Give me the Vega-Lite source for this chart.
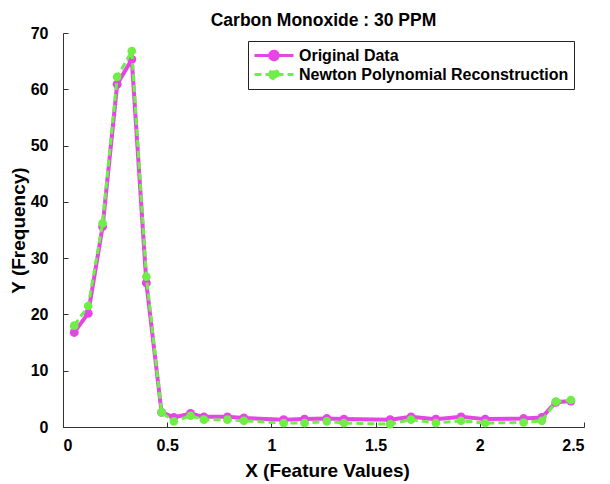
{
  "$schema": "https://vega.github.io/schema/vega-lite/v6.json",
  "autosize": "none",
  "width": 521,
  "height": 394,
  "padding": {"left": 63, "top": 33, "right": 26, "bottom": 57},
  "background": "white",
  "title": {
    "text": "Carbon Monoxide : 30 PPM",
    "font": "Liberation Sans",
    "fontSize": 17.5,
    "fontWeight": "bold",
    "color": "black",
    "anchor": "middle",
    "frame": "group",
    "offset": 8,
    "dy": 12
  },
  "config": {
    "view": {"stroke": null},
    "axis": {
      "grid": false,
      "domainColor": "#333333",
      "tickColor": "#333333",
      "domainWidth": 1,
      "tickWidth": 1,
      "tickSize": -5,
      "labelFont": "Liberation Sans",
      "labelFontWeight": "bold",
      "labelFontSize": 16,
      "labelColor": "black",
      "titleFont": "Liberation Sans",
      "titleFontWeight": "bold",
      "titleFontSize": 19,
      "titleColor": "black"
    }
  },
  "data": {
    "values": [
      {"x": 0.054, "y": 16.8, "series": "Original Data"},
      {"x": 0.121, "y": 20.2, "series": "Original Data"},
      {"x": 0.19, "y": 35.6, "series": "Original Data"},
      {"x": 0.26, "y": 60.9, "series": "Original Data"},
      {"x": 0.33, "y": 65.3, "series": "Original Data"},
      {"x": 0.4, "y": 25.6, "series": "Original Data"},
      {"x": 0.473, "y": 2.6, "series": "Original Data"},
      {"x": 0.532, "y": 1.7, "series": "Original Data"},
      {"x": 0.612, "y": 2.4, "series": "Original Data"},
      {"x": 0.676, "y": 1.8, "series": "Original Data"},
      {"x": 0.789, "y": 1.8, "series": "Original Data"},
      {"x": 0.868, "y": 1.6, "series": "Original Data"},
      {"x": 1.059, "y": 1.3, "series": "Original Data"},
      {"x": 1.159, "y": 1.4, "series": "Original Data"},
      {"x": 1.266, "y": 1.5, "series": "Original Data"},
      {"x": 1.348, "y": 1.4, "series": "Original Data"},
      {"x": 1.57, "y": 1.3, "series": "Original Data"},
      {"x": 1.67, "y": 1.8, "series": "Original Data"},
      {"x": 1.789, "y": 1.4, "series": "Original Data"},
      {"x": 1.91, "y": 1.8, "series": "Original Data"},
      {"x": 2.026, "y": 1.4, "series": "Original Data"},
      {"x": 2.21, "y": 1.5, "series": "Original Data"},
      {"x": 2.298, "y": 1.7, "series": "Original Data"},
      {"x": 2.365, "y": 4.4, "series": "Original Data"},
      {"x": 2.437, "y": 4.6, "series": "Original Data"},
      {"x": 0.054, "y": 18.0, "series": "Newton Polynomial Reconstruction"},
      {"x": 0.121, "y": 21.5, "series": "Newton Polynomial Reconstruction"},
      {"x": 0.19, "y": 36.2, "series": "Newton Polynomial Reconstruction"},
      {"x": 0.26, "y": 62.2, "series": "Newton Polynomial Reconstruction"},
      {"x": 0.33, "y": 66.8, "series": "Newton Polynomial Reconstruction"},
      {"x": 0.4, "y": 26.7, "series": "Newton Polynomial Reconstruction"},
      {"x": 0.473, "y": 2.6, "series": "Newton Polynomial Reconstruction"},
      {"x": 0.532, "y": 1.0, "series": "Newton Polynomial Reconstruction"},
      {"x": 0.612, "y": 2.0, "series": "Newton Polynomial Reconstruction"},
      {"x": 0.676, "y": 1.3, "series": "Newton Polynomial Reconstruction"},
      {"x": 0.789, "y": 1.3, "series": "Newton Polynomial Reconstruction"},
      {"x": 0.868, "y": 1.1, "series": "Newton Polynomial Reconstruction"},
      {"x": 1.059, "y": 0.7, "series": "Newton Polynomial Reconstruction"},
      {"x": 1.159, "y": 0.7, "series": "Newton Polynomial Reconstruction"},
      {"x": 1.266, "y": 1.0, "series": "Newton Polynomial Reconstruction"},
      {"x": 1.348, "y": 0.7, "series": "Newton Polynomial Reconstruction"},
      {"x": 1.57, "y": 0.5, "series": "Newton Polynomial Reconstruction"},
      {"x": 1.67, "y": 1.3, "series": "Newton Polynomial Reconstruction"},
      {"x": 1.789, "y": 0.7, "series": "Newton Polynomial Reconstruction"},
      {"x": 1.91, "y": 1.1, "series": "Newton Polynomial Reconstruction"},
      {"x": 2.026, "y": 0.7, "series": "Newton Polynomial Reconstruction"},
      {"x": 2.21, "y": 0.8, "series": "Newton Polynomial Reconstruction"},
      {"x": 2.298, "y": 1.1, "series": "Newton Polynomial Reconstruction"},
      {"x": 2.365, "y": 4.5, "series": "Newton Polynomial Reconstruction"},
      {"x": 2.437, "y": 4.8, "series": "Newton Polynomial Reconstruction"}
    ]
  },
  "encoding": {
    "x": {
      "field": "x",
      "type": "quantitative",
      "scale": {"domain": [0, 2.5], "nice": false},
      "axis": {
        "title": "X (Feature Values)",
        "values": [0, 0.5, 1, 1.5, 2, 2.5],
        "format": "~g",
        "labelPadding": 15,
        "titleX": 264,
        "titleY": 49,
        "titleBaseline": "alphabetic"
      }
    },
    "y": {
      "field": "y",
      "type": "quantitative",
      "scale": {"domain": [0, 70], "nice": false},
      "axis": {
        "title": "Y (Frequency)",
        "values": [0, 10, 20, 30, 40, 50, 60, 70],
        "labelPadding": 20,
        "titleX": -45,
        "titleY": 197,
        "titleBaseline": "middle"
      }
    },
    "color": {
      "field": "series",
      "type": "nominal",
      "scale": {
        "domain": ["Original Data", "Newton Polynomial Reconstruction"],
        "range": ["#e645e6", "#6eee46"]
      },
      "legend": {
        "title": null,
        "orient": "none",
        "legendX": 185,
        "legendY": 8,
        "padding": 5,
        "fillColor": "white",
        "strokeColor": "#222222",
        "labelFont": "Liberation Sans",
        "labelFontWeight": "bold",
        "labelFontSize": 16,
        "labelColor": "black",
        "labelOffset": 4,
        "labelLimit": 400,
        "symbolType": "M-1,0H1M-0.22,0A0.22,0.22 0 1,0 0.22,0A0.22,0.22 0 1,0 -0.22,0Z",
        "symbolSize": 1521,
        "symbolStrokeWidth": 3,
        "clipHeight": 19,
        "rowPadding": 0,
        "encode": {
          "symbols": {
            "update": {
              "fill": {"scale": "color", "field": "value"},
              "stroke": {"scale": "color", "field": "value"},
              "opacity": {"value": 1},
              "strokeDash": [
                {"test": "datum.value === 'Newton Polynomial Reconstruction'", "value": [7, 4]},
                {"value": [1, 0]}
              ]
            }
          }
        }
      }
    }
  },
  "layer": [
    {
      "transform": [{"filter": "datum.series === 'Original Data'"}],
      "mark": {"type": "line", "strokeWidth": 4}
    },
    {
      "transform": [{"filter": "datum.series === 'Original Data'"}],
      "mark": {"type": "point", "filled": true, "size": 80, "opacity": 1}
    },
    {
      "transform": [{"filter": "datum.series === 'Newton Polynomial Reconstruction'"}],
      "mark": {"type": "line", "strokeWidth": 3, "strokeDash": [7, 4]}
    },
    {
      "transform": [{"filter": "datum.series === 'Newton Polynomial Reconstruction'"}],
      "mark": {"type": "point", "filled": true, "size": 75, "opacity": 1}
    }
  ]
}
